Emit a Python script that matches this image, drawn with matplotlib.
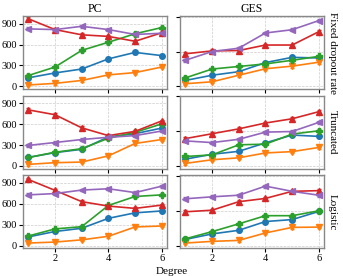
import numpy as np
import matplotlib
matplotlib.use('Agg')
import matplotlib.pyplot as plt

plt.rcParams['font.family'] = ['Liberation Serif', 'DejaVu Serif']
plt.rcParams['font.size'] = 8

degree = [1, 2, 3, 4, 5, 6]
methods = ['blue', 'orange', 'green', 'red', 'purple']
colors = ['#1f77b4', '#ff7f0e', '#2ca02c', '#d62728', '#9467bd']
markers = ['o', 'v', 'P', '^', '<']

# values per panel, order: blue, orange, green, red, purple
pc_fixed = [
    [122, 192, 248, 394, 487, 441],
    [19, 42, 84, 164, 197, 277],
    [155, 277, 516, 633, 755, 844],
    [970, 815, 740, 717, 647, 769],
    [825, 815, 862, 815, 745, 762],
]
ges_fixed = [
    [84, 159, 210, 341, 416, 407],
    [37, 65, 159, 252, 290, 346],
    [121, 248, 285, 322, 374, 430],
    [467, 509, 514, 593, 593, 785],
    [374, 500, 547, 766, 813, 944],
]
pc_trunc = [
    [122, 192, 239, 417, 464, 544],
    [23, 47, 56, 145, 323, 380],
    [122, 197, 248, 398, 483, 605],
    [806, 736, 548, 436, 497, 647],
    [295, 337, 380, 412, 436, 502],
]
ges_trunc = [
    [98, 168, 210, 332, 444, 425],
    [37, 89, 117, 187, 206, 266],
    [136, 159, 304, 313, 458, 505],
    [393, 463, 533, 617, 678, 780],
    [360, 336, 383, 486, 495, 626],
]
pc_logit = [
    [125, 203, 249, 392, 471, 498],
    [37, 51, 83, 134, 268, 282],
    [138, 240, 272, 577, 706, 729],
    [950, 794, 632, 568, 535, 582],
    [729, 748, 798, 817, 762, 854],
]
ges_logit = [
    [89, 168, 220, 346, 374, 491],
    [37, 61, 75, 182, 262, 266],
    [98, 201, 313, 430, 430, 500],
    [486, 509, 631, 678, 780, 790],
    [673, 701, 724, 855, 780, 724],
]
err = 20

panels = [[pc_fixed, ges_fixed], [pc_trunc, ges_trunc], [pc_logit, ges_logit]]
col_titles = ['PC', 'GES']
row_titles = ['Fixed dropout rate', 'Truncated', 'Logistic']

fig, axes = plt.subplots(3, 2, figsize=(3.43, 2.76), dpi=100, sharex=True)
fig.subplots_adjust(left=0.067, right=0.945, top=0.942, bottom=0.1,
                    wspace=0.09, hspace=0.09)

for r in range(3):
    for c in range(2):
        ax = axes[r, c]
        for k in range(5):
            ax.errorbar(degree, panels[r][c][k], yerr=err, color=colors[k],
                        marker=markers[k], markersize=4, lw=1.2,
                        capsize=1.5, elinewidth=0.8)
        ax.set_ylim(-40, 1010)
        ax.set_xlim(0.8, 6.2)
        ax.set_xticks([2, 4, 6])
        ax.grid(True, ls='--', lw=0.5, color='#cccccc')
        for s in ax.spines.values():
            s.set_color('#888888')
            s.set_linewidth(1.0)
        ax.tick_params(length=3, width=0.8, pad=1.2, labelsize=7.5)
        if c == 0:
            ax.set_yticks([0, 300, 600, 900])
        else:
            ax.set_yticks([0, 500, 1000])
            ax.set_yticklabels([])
            ax.yaxis.set_label_position('right')
            ax.set_ylabel(row_titles[r], rotation=-90, labelpad=9, fontsize=8)
        if r == 0:
            ax.set_title(col_titles[c], fontsize=8.5, pad=3)

fig.text(0.5, 0.0, 'Degree', ha='center', va='bottom', fontsize=8)

plt.savefig('out.png', dpi=100)
